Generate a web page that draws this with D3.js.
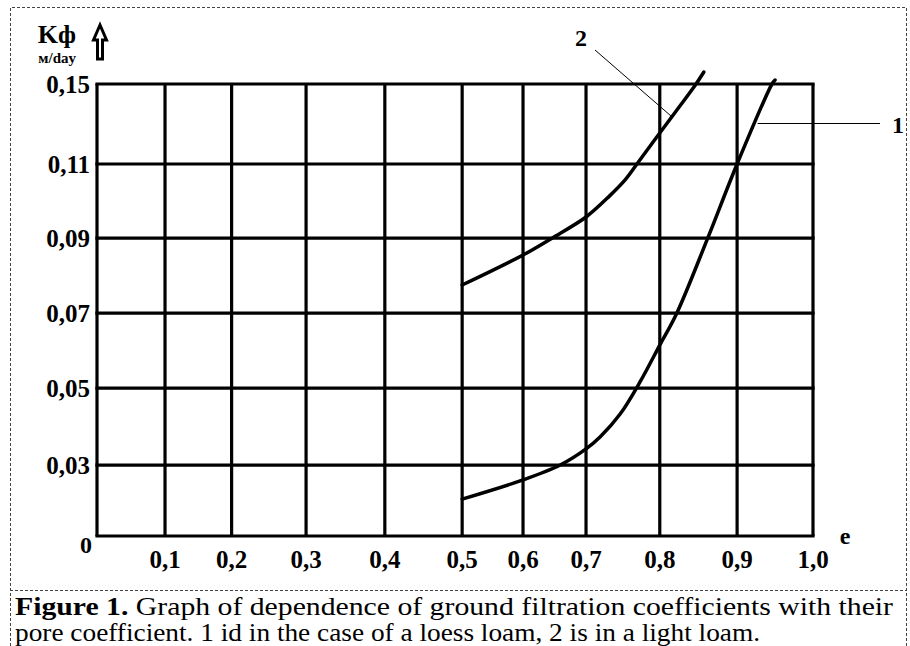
<!DOCTYPE html>
<html>
<head>
<meta charset="utf-8">
<script src="https://cdn.jsdelivr.net/npm/d3@7"></script>
<style>
  html, body { margin: 0; padding: 0; background: #fff; }
  svg { display: block; }
  svg text { font-family: "Liberation Serif", "Times New Roman", "DejaVu Serif", serif; }
</style>
</head>
<body>
<div id="chart"></div>
<script>
// Axis ticks (the original grid is not evenly spaced in value)
const eTicks = [0, 0.1, 0.2, 0.3, 0.4, 0.5, 0.6, 0.7, 0.8, 0.9, 1.0];
const eTickLabels = ['', '0,1', '0,2', '0,3', '0,4', '0,5', '0,6', '0,7', '0,8', '0,9', '1,0'];
const kTicks = [0, 0.03, 0.05, 0.07, 0.09, 0.11, 0.15];
const kTickLabels = ['', '0,03', '0,05', '0,07', '0,09', '0,11', '0,15'];

// Curve 1 — loess loam
const loessE = [0.5, 0.6, 0.659, 0.70, 0.719, 0.746, 0.773, 0.80, 0.822, 0.862, 0.90, 0.946, 0.95];
const loessK = [0.0156, 0.0237, 0.030, 0.0342, 0.0373, 0.0432, 0.0516, 0.0615, 0.070, 0.090, 0.110, 0.150, 0.152];

// Curve 2 — light loam
const lightE = [0.5, 0.6, 0.646, 0.70, 0.732, 0.753, 0.773, 0.80, 0.826, 0.846, 0.857];
const lightK = [0.0775, 0.0855, 0.090, 0.0957, 0.1014, 0.1057, 0.112, 0.1255, 0.139, 0.1495, 0.156];

const CAPTION_BOLD = 'Figure 1.';
const CAPTION_1 = ' Graph of dependence of ground filtration coefficients with their';
const CAPTION_2 = 'pore coefficient. 1 id in the case of a loess loam, 2 is in a light loam.';

// Layout
const W = 910, H = 646;
const plot = { left: 97, right: 813, top: 84, bottom: 536 };
// where each tick sits along the axis, as a share of the plot size
const xStops = [0, 0.095, 0.188, 0.292, 0.402, 0.510, 0.595, 0.683, 0.786, 0.894, 1];
const yStops = [0, 0.157, 0.327, 0.493, 0.659, 0.823, 1];

const INK = '#000';

const svg = d3.select('#chart')
  .append('svg')
  .attr('width', W)
  .attr('height', H);

const pw = plot.right - plot.left;
const ph = plot.bottom - plot.top;

const x = d3.scaleLinear()
  .domain(eTicks)
  .range(xStops.map(f => plot.left + f * pw));

const y = d3.scaleLinear()
  .domain(kTicks)
  .range(yStops.map(f => plot.bottom - f * ph));

// Dashed frame + caption separator
const frame = svg.append('g')
  .attr('fill', 'none')
  .attr('stroke', '#444')
  .attr('stroke-width', 1)
  .attr('stroke-dasharray', '3,2');
frame.append('path').attr('d', `M10.5,${H} V7.5 H906.5 V${H}`);
frame.append('line').attr('x1', 10).attr('x2', 907).attr('y1', 590.5).attr('y2', 590.5);

// Grid
const grid = svg.append('g').attr('stroke', INK).attr('stroke-width', 3.2);
grid.selectAll('.vline')
  .data(eTicks)
  .join('line')
  .attr('class', 'vline')
  .attr('x1', d => x(d)).attr('x2', d => x(d))
  .attr('y1', plot.top).attr('y2', plot.bottom);
grid.selectAll('.hline')
  .data(kTicks)
  .join('line')
  .attr('class', 'hline')
  .attr('x1', plot.left - 1.6).attr('x2', plot.right + 1.6)
  .attr('y1', d => y(d)).attr('y2', d => y(d));

// Y tick labels
svg.append('g')
  .selectAll('text')
  .data(kTicks)
  .join('text')
  .attr('x', plot.left - 7)
  .attr('y', d => y(d) + 9)
  .attr('text-anchor', 'end')
  .style('font-weight', 'bold')
  .style('font-size', '25px')
  .text((d, i) => kTickLabels[i]);

// X tick labels
svg.append('g')
  .selectAll('text')
  .data(eTicks)
  .join('text')
  .attr('x', d => x(d))
  .attr('y', plot.bottom + 32)
  .attr('text-anchor', 'middle')
  .style('font-weight', 'bold')
  .style('font-size', '25px')
  .text((d, i) => eTickLabels[i]);

// Origin "0" and axis names
svg.append('text')
  .attr('x', plot.left - 11).attr('y', plot.bottom + 17)
  .attr('text-anchor', 'middle')
  .style('font-weight', 'bold').style('font-size', '24px')
  .text('0');

svg.append('text')
  .attr('x', plot.right + 32).attr('y', plot.bottom + 8)
  .attr('text-anchor', 'middle')
  .style('font-weight', 'bold').style('font-size', '24px')
  .text('e');

svg.append('text')
  .attr('x', 76).attr('y', 43)
  .attr('text-anchor', 'end')
  .style('font-weight', 'bold').style('font-size', '26px')
  .text('Kф');

svg.append('text')
  .attr('x', 76).attr('y', 63)
  .attr('text-anchor', 'end')
  .style('font-weight', 'bold').style('font-size', '15px')
  .text('м/day');

// Hollow up arrow next to the y axis name
svg.append('path')
  .attr('d', 'M100,25 L93.5,40 L97.5,40 L97.5,59 L102.5,59 L102.5,40 L106.5,40 Z')
  .attr('fill', '#fff')
  .attr('stroke', INK)
  .attr('stroke-width', 3)
  .attr('stroke-linejoin', 'miter');

// Curves
const line = d3.line()
  .x(d => x(d[0]))
  .y(d => y(d[1]))
  .curve(d3.curveCatmullRom.alpha(0.5));

const curves = [
  d3.zip(loessE, loessK),
  d3.zip(lightE, lightK)
];

svg.append('g')
  .selectAll('path')
  .data(curves)
  .join('path')
  .attr('fill', 'none')
  .attr('stroke', INK)
  .attr('stroke-width', 3.5)
  .attr('stroke-linecap', 'round')
  .attr('d', line);

// Leader lines and curve numbers
svg.append('line')
  .attr('x1', 595).attr('y1', 50)
  .attr('x2', x(0.816)).attr('y2', y(0.1335))
  .attr('stroke', INK).attr('stroke-width', 1);
svg.append('line')
  .attr('x1', x(0.927)).attr('y1', 123.5)
  .attr('x2', 880).attr('y2', 123.5)
  .attr('stroke', INK).attr('stroke-width', 1);

svg.append('text')
  .attr('x', 581).attr('y', 46)
  .attr('text-anchor', 'middle')
  .style('font-weight', 'bold').style('font-size', '24px')
  .text('2');
svg.append('text')
  .attr('x', 898).attr('y', 133)
  .attr('text-anchor', 'middle')
  .style('font-weight', 'bold').style('font-size', '24px')
  .text('1');

// Caption
const cap1 = svg.append('text')
  .attr('x', 15).attr('y', 615)
  .attr('textLength', 878)
  .attr('lengthAdjust', 'spacingAndGlyphs')
  .style('font-size', '25px');
cap1.append('tspan').style('font-weight', 'bold').text(CAPTION_BOLD);
cap1.append('tspan').text(CAPTION_1);

svg.append('text')
  .attr('x', 15).attr('y', 641)
  .attr('textLength', 745)
  .attr('lengthAdjust', 'spacingAndGlyphs')
  .style('font-size', '25px')
  .text(CAPTION_2);
</script>
</body>
</html>
